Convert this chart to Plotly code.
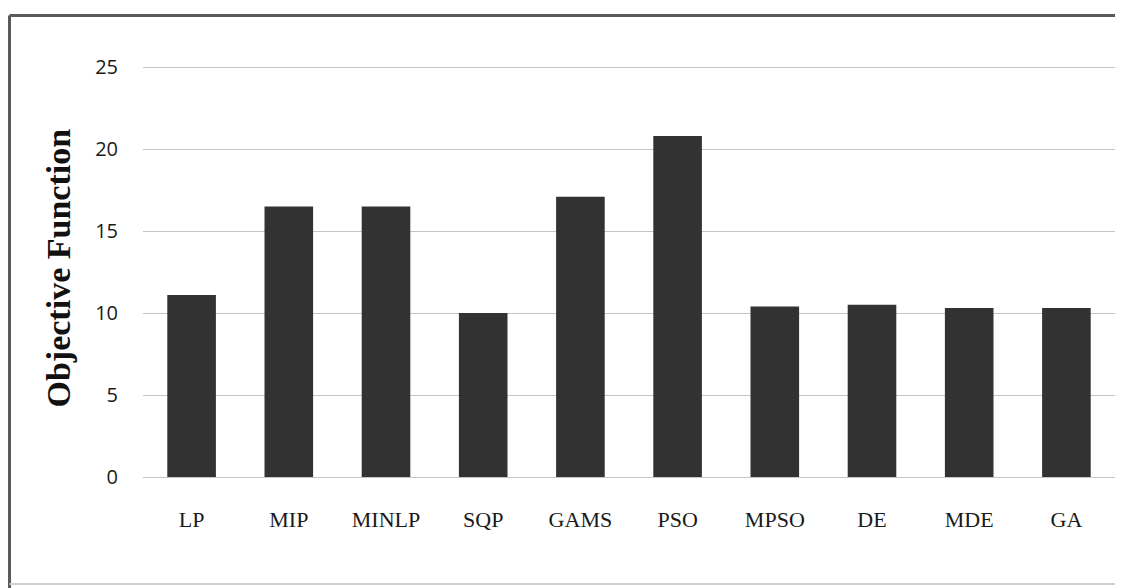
import plotly.graph_objects as go

categories = ["LP", "MIP", "MINLP", "SQP", "GAMS", "PSO", "MPSO", "DE", "MDE", "GA"]
objective_values = [11.1, 16.5, 16.5, 10.0, 17.1, 20.8, 10.4, 10.5, 10.3, 10.3]
y_ticks = [0, 5, 10, 15, 20, 25]
y_title = "Objective Function"

# the page body adds an 8px offset; figure coordinates are page coordinates minus 8
OFF = 8
W, H = 1123 - OFF, 588 - OFF
ML, MR, MT, MB = 143 - OFF, 8, 63 - OFF, 111
PW, PH = W - ML - MR, H - MT - MB


def px_x(p):
    return (p - OFF - ML) / PW


def px_y(p):
    return (H - MB - (p - OFF)) / PH


fig = go.Figure()
fig.add_trace(go.Bar(
    x=categories,
    y=objective_values,
    marker=dict(color="#323232", line=dict(width=0)),
    width=0.5,
))

fig.update_layout(
    width=W, height=H,
    margin=dict(l=ML, r=MR, t=MT, b=MB),
    paper_bgcolor="white",
    plot_bgcolor="white",
    showlegend=False,
    xaxis=dict(
        showgrid=False,
        showline=False,
        ticks="",
        tickfont=dict(family="Liberation Serif, Times New Roman, serif", size=22, color="#1a1a1a"),
        ticklabelstandoff=27,
    ),
    yaxis=dict(
        range=[0, 25.25],
        tickvals=y_ticks,
        showgrid=True,
        gridcolor="#c4c4c4",
        gridwidth=1,
        zeroline=True,
        zerolinecolor="#c4c4c4",
        zerolinewidth=1,
        showline=False,
        ticks="",
        tickfont=dict(family="Open Sans, sans-serif", size=20, color="#1a1a1a"),
        ticklabelstandoff=24,
    ),
    annotations=[dict(
        text="<b>" + y_title + "</b>",
        xref="paper", yref="paper",
        x=px_x(57.5), y=px_y(268),
        xanchor="center", yanchor="middle",
        textangle=-90, showarrow=False,
        font=dict(family="Liberation Serif, Times New Roman, serif", size=34, color="#111111"),
    )],
    shapes=[
        dict(type="line", xref="paper", yref="paper",
             x0=px_x(9.5), x1=px_x(1123), y0=px_y(15.5), y1=px_y(15.5),
             line=dict(color="#5a5a5a", width=3)),
        dict(type="line", xref="paper", yref="paper",
             x0=px_x(9.5), x1=px_x(9.5), y0=px_y(15.5), y1=px_y(588),
             line=dict(color="#5a5a5a", width=3)),
        dict(type="line", xref="paper", yref="paper",
             x0=px_x(9.5), x1=px_x(1123), y0=px_y(584), y1=px_y(584),
             line=dict(color="#d0d0d0", width=2)),
    ],
)

fig.write_html("out.html")
